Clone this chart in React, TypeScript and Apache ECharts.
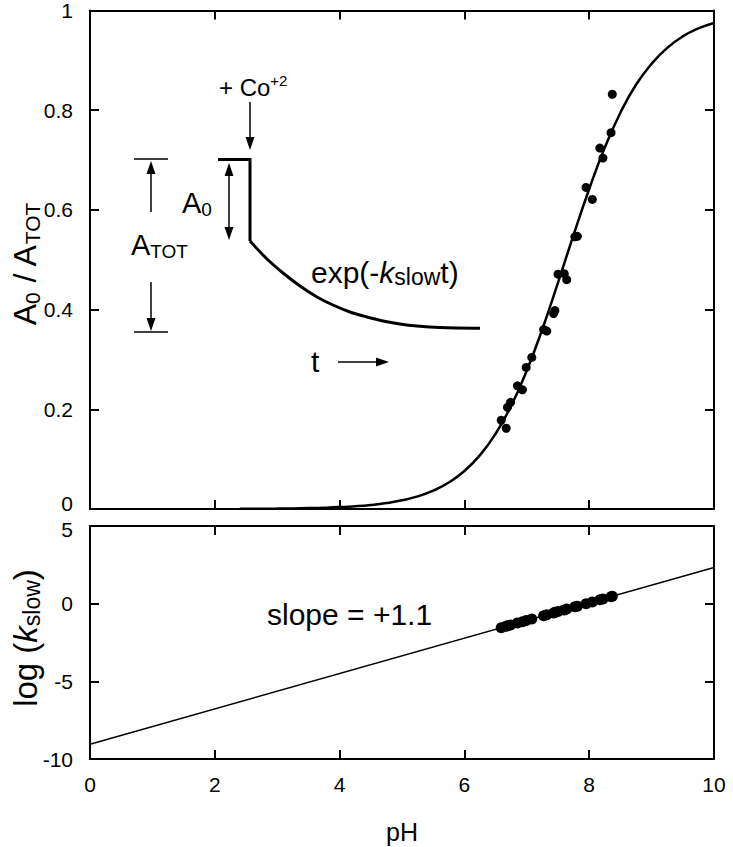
import React, { useEffect, useRef } from "react";
import * as echarts from "echarts";

// ---- data ----
const pHPoints = [6.59, 6.67, 6.69, 6.74, 6.85, 6.93, 6.99, 7.08, 7.27, 7.32, 7.43, 7.45, 7.5, 7.6, 7.64, 7.77, 7.81, 7.95, 8.05, 8.17, 8.22, 8.35, 8.37];
const fractionPoints = [0.178, 0.162, 0.204, 0.214, 0.247, 0.239, 0.284, 0.304, 0.36, 0.357, 0.392, 0.398, 0.471, 0.472, 0.46, 0.546, 0.547, 0.645, 0.621, 0.724, 0.704, 0.755, 0.832];
const logKslowPoints = [-1.55, -1.45, -1.42, -1.38, -1.25, -1.17, -1.08, -0.99, -0.78, -0.72, -0.6, -0.56, -0.51, -0.4, -0.35, -0.2, -0.17, 0.0, 0.11, 0.25, 0.3, 0.45, 0.48];

const fitCurvePH = [2.4, 2.75, 3, 3.25, 3.5, 3.75, 4, 4.25, 4.5, 4.75, 5, 5.25, 5.5, 5.75, 6, 6.25, 6.5, 6.75, 7, 7.25, 7.5, 7.75, 8, 8.25, 8.5, 8.75, 9, 9.25, 9.5, 9.75, 10];
const fitCurveFraction = [0.0003, 0.0006, 0.0008, 0.0012, 0.0018, 0.0026, 0.0038, 0.0055, 0.0081, 0.0119, 0.0174, 0.0253, 0.0368, 0.0532, 0.0762, 0.108, 0.151, 0.207, 0.278, 0.361, 0.454, 0.55, 0.642, 0.725, 0.795, 0.851, 0.893, 0.925, 0.948, 0.964, 0.975];

const fitLinePH = [0, 10];
const fitLineLogK = [-9.05, 2.33];

const FONT = "'Liberation Sans', Arial, Helvetica, sans-serif";
const BLACK = "#000";

function arrowHead(tipX: number, tipY: number, dir: "up" | "down" | "right") {
  const L = 13;
  const W = 4.5;
  let pts: number[][];
  if (dir === "up") pts = [[tipX, tipY], [tipX - W, tipY + L], [tipX + W, tipY + L]];
  else if (dir === "down") pts = [[tipX, tipY], [tipX - W, tipY - L], [tipX + W, tipY - L]];
  else pts = [[tipX, tipY], [tipX - L, tipY - W], [tipX - L, tipY + W]];
  return { type: "polygon", silent: true, shape: { points: pts }, style: { fill: BLACK } };
}

function seg(x1: number, y1: number, x2: number, y2: number, w = 1.5) {
  return { type: "line", silent: true, shape: { x1, y1, x2, y2 }, style: { stroke: BLACK, lineWidth: w } };
}

export default function App() {
  const ref = useRef<HTMLDivElement>(null);

  useEffect(() => {
    if (!ref.current) return;
    const chart = echarts.init(ref.current, undefined, { renderer: "svg" });

    const axisLine = { show: true, onZero: false, lineStyle: { color: BLACK, width: 2 } };
    const axisTick = { show: true, inside: true, length: 9, lineStyle: { color: BLACK, width: 2 } };
    const label = { show: true, color: BLACK, fontSize: 21, fontFamily: FONT };

    const xBase = { type: "value", min: 0, max: 10, interval: 2, axisLine, axisTick, splitLine: { show: false } };
    const grid0 = { left: 90, right: 19, top: 10, height: 499 };
    const grid1 = { left: 90, right: 19, top: 526, height: 233 };

    const decayPts = [
      [250, 241], [266, 258], [283, 273], [300, 286], [317, 297], [333, 305], [350, 312],
      [367, 317], [383, 321], [400, 324], [417, 326], [440, 327.5], [480, 328.3],
    ];

    const option: any = {
      animation: false,
      backgroundColor: "#fff",
      grid: [grid0, grid1],
      xAxis: [
        { ...xBase, gridIndex: 0, position: "bottom", axisLabel: { show: false } },
        { ...xBase, gridIndex: 0, position: "top", axisLabel: { show: false } },
        {
          ...xBase, gridIndex: 1, position: "bottom",
          axisLabel: { ...label, margin: 15 },
          name: "pH", nameLocation: "middle", nameGap: 60,
          nameTextStyle: { color: BLACK, fontSize: 25, fontFamily: FONT },
        },
        { ...xBase, gridIndex: 1, position: "top", axisLabel: { show: false } },
      ],
      yAxis: [
        {
          type: "value", gridIndex: 0, min: 0, max: 1, interval: 0.2, position: "left", axisLine, axisTick, splitLine: { show: false },
          axisLabel: {
            ...label, margin: 17,
            formatter: (v: number) => (v === 0 ? "{lo|0}" : String(v)),
            rich: { lo: { fontSize: 21, fontFamily: FONT, color: BLACK, padding: [0, 0, 12, 0] } },
          },
        },
        { type: "value", gridIndex: 0, min: 0, max: 1, interval: 0.2, position: "right", axisLine, axisTick, splitLine: { show: false }, axisLabel: { show: false } },
        {
          type: "value", gridIndex: 1, min: -10, max: 5, interval: 5, position: "left", axisLine, axisTick, splitLine: { show: false },
          axisLabel: {
            ...label, margin: 17,
            formatter: (v: number) => (v === 5 ? "{hi|5}" : String(v)),
            rich: { hi: { fontSize: 21, fontFamily: FONT, color: BLACK, padding: [6, 0, 0, 0] } },
          },
        },
        { type: "value", gridIndex: 1, min: -10, max: 5, interval: 5, position: "right", axisLine, axisTick, splitLine: { show: false }, axisLabel: { show: false } },
      ],
      series: [
        {
          type: "line", xAxisIndex: 0, yAxisIndex: 0, smooth: true, showSymbol: false, symbol: "none",
          data: fitCurvePH.map((p, i) => [p, fitCurveFraction[i]]),
          lineStyle: { color: BLACK, width: 2.5 }, z: 3,
        },
        {
          type: "scatter", xAxisIndex: 0, yAxisIndex: 0, symbolSize: 9,
          data: pHPoints.map((p, i) => [p, fractionPoints[i]]),
          itemStyle: { color: BLACK, opacity: 1 }, z: 4,
        },
        {
          type: "line", xAxisIndex: 2, yAxisIndex: 2, showSymbol: false, symbol: "none",
          data: fitLinePH.map((p, i) => [p, fitLineLogK[i]]),
          lineStyle: { color: BLACK, width: 1.5 }, z: 3,
        },
        {
          type: "scatter", xAxisIndex: 2, yAxisIndex: 2, symbolSize: 11,
          data: pHPoints.map((p, i) => [p, logKslowPoints[i]]),
          itemStyle: { color: BLACK, opacity: 1 }, z: 4,
        },
      ],
      graphic: [
        // y-axis titles
        {
          type: "text", x: 25, y: 264, rotation: Math.PI / 2,
          style: {
            text: "{b|A}{s|0}{b| / A}{s|TOT}",
            align: "center", verticalAlign: "middle", fill: BLACK,
            rich: {
              b: { fontSize: 32, fontFamily: FONT, lineHeight: 35, fill: BLACK },
              s: { fontSize: 21, fontFamily: FONT, lineHeight: 16, verticalAlign: "bottom", fill: BLACK },
            },
          },
        },
        {
          type: "text", x: 25, y: 638, rotation: Math.PI / 2,
          style: {
            text: "{b|log (}{i|k}{s|slow}{b|)}",
            align: "center", verticalAlign: "middle", fill: BLACK,
            rich: {
              b: { fontSize: 33, fontFamily: FONT, lineHeight: 36, fill: BLACK },
              i: { fontSize: 33, fontFamily: FONT, fontStyle: "italic", lineHeight: 36, fill: BLACK },
              s: { fontSize: 23, fontFamily: FONT, lineHeight: 17, verticalAlign: "bottom", fill: BLACK },
            },
          },
        },
        // inset: A_TOT bracket
        seg(134, 159, 168, 159),
        seg(134, 332, 168, 332),
        seg(151, 212, 151, 170),
        arrowHead(151, 161, "up"),
        seg(151, 282, 151, 322),
        arrowHead(151, 331, "down"),
        {
          type: "text", x: 131, y: 245,
          style: {
            text: "{b|A}{s|TOT}", align: "left", verticalAlign: "middle", fill: BLACK,
            rich: {
              b: { fontSize: 29, fontFamily: FONT, lineHeight: 32, fill: BLACK },
              s: { fontSize: 19, fontFamily: FONT, lineHeight: 15, verticalAlign: "bottom", fill: BLACK },
            },
          },
        },
        // step + decay trace
        {
          type: "polyline", silent: true,
          shape: { points: [[218, 159.5], [250, 159.5], [250, 241]] },
          style: { stroke: BLACK, lineWidth: 3, fill: "none" },
        },
        {
          type: "polyline", silent: true,
          shape: { points: decayPts, smooth: 0.3 },
          style: { stroke: BLACK, lineWidth: 3, fill: "none" },
        },
        // + Co arrow
        seg(250, 102, 250, 141),
        arrowHead(250, 150, "down"),
        {
          type: "text", x: 219, y: 87,
          style: {
            text: "{n|+ Co}{p|+2}", align: "left", verticalAlign: "middle", fill: BLACK,
            rich: {
              n: { fontSize: 24, fontFamily: FONT, lineHeight: 28, fill: BLACK },
              p: { fontSize: 15, fontFamily: FONT, lineHeight: 12, verticalAlign: "top", fill: BLACK },
            },
          },
        },
        // A0 double arrow
        seg(229, 172, 229, 230),
        arrowHead(229, 163, "up"),
        arrowHead(229, 240, "down"),
        {
          type: "text", x: 182, y: 203,
          style: {
            text: "{b|A}{s|0}", align: "left", verticalAlign: "middle", fill: BLACK,
            rich: {
              b: { fontSize: 29, fontFamily: FONT, lineHeight: 32, fill: BLACK },
              s: { fontSize: 19, fontFamily: FONT, lineHeight: 15, verticalAlign: "bottom", fill: BLACK },
            },
          },
        },
        // exp label
        {
          type: "text", x: 311, y: 272,
          style: {
            text: "{b|exp(-}{i|k}{s|slow}{b|t)}", align: "left", verticalAlign: "middle", fill: BLACK,
            rich: {
              b: { fontSize: 30, fontFamily: FONT, lineHeight: 33, fill: BLACK },
              i: { fontSize: 30, fontFamily: FONT, fontStyle: "italic", lineHeight: 33, fill: BLACK },
              s: { fontSize: 23, fontFamily: FONT, lineHeight: 17, verticalAlign: "bottom", fill: BLACK },
            },
          },
        },
        // t arrow
        {
          type: "text", x: 311, y: 361,
          style: { text: "t", fontSize: 30, fontFamily: FONT, fill: BLACK, align: "left", verticalAlign: "middle" },
        },
        seg(338, 362, 378, 362),
        arrowHead(389, 362, "right"),
        // slope label
        {
          type: "text", x: 267, y: 614,
          style: { text: "slope = +1.1", fontSize: 30, fontFamily: FONT, fill: BLACK, align: "left", verticalAlign: "middle" },
        },
      ],
    };

    chart.setOption(option);
    return () => chart.dispose();
  }, []);

  return (
    <div
      ref={ref}
      style={{ position: "fixed", left: 0, top: 0, width: 733, height: 847, background: "#fff" }}
    />
  );
}
